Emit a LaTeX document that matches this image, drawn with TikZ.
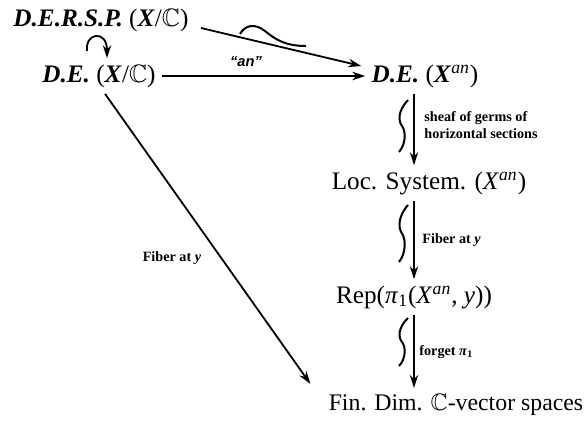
\documentclass[tikz,border=0pt]{standalone}
\usepackage{amsmath}
\usepackage{amsfonts, amssymb}
\usepackage{fontspec}
\setmainfont{Liberation Serif}
\setsansfont{Liberation Sans}
\usetikzlibrary{arrows.meta}

\begin{document}
\begin{tikzpicture}[x=0.5pt, y=-0.5pt, >={Stealth[length=6.5pt, width=4.2pt]},
    obj/.style={font=\fontsize{12.6}{14}\selectfont, inner sep=3pt},
    lbl/.style={font=\fontsize{7.1}{8.4}\selectfont\bfseries, align=left, inner sep=1pt},
    arr/.style={->, line width=0.9pt},
    wig/.style={line width=1pt}]
    \useasboundingbox (0,0) rectangle (585,444);

    % Objects
    \node[obj] (dersp) at (101,20) {\textbf{\textit{D.E.R.S.P.}} (\textbf{\textit{X}}/$\mathbb{C}$)};
    \node[obj] (dex) at (99,76) {\textbf{\textit{D.E.}} (\textbf{\textit{X}}/$\mathbb{C}$)};
    \node[obj] (dean) at (425,76) {\textbf{\textit{D.E.}} (\textbf{\textit{X}}\textsuperscript{\textit{an}})};
    \node[obj] (loc) at (429,183) {Loc. System. (\textit{X}\textsuperscript{\textit{an}})};
    \node[obj] (rep) at (414,297) {Rep(\textit{π}\textsubscript{1}(\textit{X}\textsuperscript{\textit{an}}, \textit{y}))};
    \node[obj, font=\fontsize{11.9}{14}\selectfont] (fin) at (456,405) {Fin. Dim. $\mathbb{C}$-vector spaces};

    % Top row arrows
    \coordinate (hook) at (87,51);
    \draw[arr] (hook) .. controls (85,32) and (107,30) .. (107,50) -- (dex.north -| 107,0);
    \draw[arr] ([xshift=3pt, yshift=-4pt]dersp.east) -- ([xshift=-2pt, yshift=5pt]dean.west);
    \draw[wig] (240,34) .. controls (245,25) and (255,23) .. (265,31) .. controls (276,40) and (286,46) .. (306,46);
    \draw[arr] (dex) -- (dean);
    \node[font=\fontsize{7.3}{9}\selectfont\sffamily\bfseries\itshape] (an) at (246,62) {``an''};

    % Left diagonal
    \draw[arr] ([xshift=3pt]dex.south) -- ([xshift=-6pt, yshift=2pt]fin.north west);
    \node[lbl] (fibl) at (172,258) {Fiber at \textit{y}};

    % Vertical column
    \draw[arr] (dean.south -| rep) -- (loc.north -| rep);
    \draw[arr] (loc.south -| rep) -- (rep.north);
    \draw[arr] (rep.south) -- (fin.north -| rep);
    \foreach \ya/\yb in {100/152, 205/262, 318/366}
      \draw[wig] (408,\ya) .. controls (398,{\ya+0.2*(\yb-\ya)}) and (398,{\ya+0.4*(\yb-\ya)}) .. (402,{0.5*(\ya+\yb)}) .. controls (406,{\ya+0.6*(\yb-\ya)}) and (406,{\ya+0.85*(\yb-\ya)}) .. (399,\yb);

    % Labels
    \node[lbl, anchor=west] (sheaf) at (422,125) {sheaf of germs of\\horizontal sections};
    \node[lbl, anchor=west] (fibr) at (420,240) {Fiber at \textit{y}};
    \node[lbl, anchor=west] (forg) at (417,352) {forget \textit{π}\textsubscript{1}};
\end{tikzpicture}
\end{document}
